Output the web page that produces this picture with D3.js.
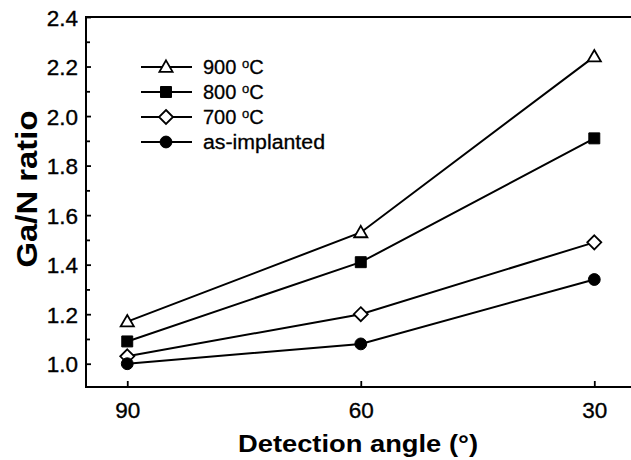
<!DOCTYPE html>
<html>
<head>
<meta charset="utf-8">
<script src="https://cdn.jsdelivr.net/npm/d3@7"></script>
<style>
  html, body { margin: 0; padding: 0; background: #fff; }
  svg { display: block; }
  text { font-family: "Liberation Sans", Arial, Helvetica, sans-serif; fill: #000; }
</style>
</head>
<body>
<svg id="chart" width="631" height="460"></svg>
<script>
// ---- data ----
const angles = [90, 60, 30];
const seriesNames = ["900", "800", "700", "as-implanted"];
const s900 = [1.17, 1.53, 2.24];
const s800 = [1.09, 1.41, 1.91];
const s700 = [1.03, 1.20, 1.49];
const sAsImplanted = [1.00, 1.08, 1.34];
const yMajorTicks = [1.0, 1.2, 1.4, 1.6, 1.8, 2.0, 2.2, 2.4];
const yMinorTicks = [1.1, 1.3, 1.5, 1.7, 1.9, 2.1, 2.3];
const xTicks = [90, 60, 30];

const series = [
  { name: seriesNames[0], values: s900, symbol: "triangle", fill: "#fff" },
  { name: seriesNames[1], values: s800, symbol: "square", fill: "#000" },
  { name: seriesNames[2], values: s700, symbol: "diamond", fill: "#fff" },
  { name: seriesNames[3], values: sAsImplanted, symbol: "circle", fill: "#000" }
];

const svg = d3.select("#chart");
const L = 86, T = 17, B = 387, R = 641;

const x = d3.scaleLinear().domain([95.3, 24]).range([L, R]);
const y = d3.scaleLinear().domain([0.906, 2.4]).range([B, T]);

// frame
svg.append("rect").attr("x", L).attr("y", T).attr("width", R - L).attr("height", B - T)
  .attr("fill", "none").attr("stroke", "#000").attr("stroke-width", 2);

// y axis
const yAxis = d3.axisLeft(y).tickValues(yMajorTicks).tickFormat(d3.format(".1f"))
  .tickSizeInner(-5).tickSizeOuter(0).tickPadding(8);
const gy = svg.append("g").attr("transform", `translate(${L},0)`).call(yAxis);
gy.select(".domain").remove();
gy.selectAll(".tick line").attr("stroke", "#000").attr("stroke-width", 1.8);
gy.selectAll(".tick text").attr("font-size", 22.5).attr("dy", "0.36em")
  .attr("stroke", "#000").attr("stroke-width", 0.35);

const yMinor = d3.axisLeft(y).tickValues(yMinorTicks).tickFormat("")
  .tickSizeInner(-4).tickSizeOuter(0);
const gym = svg.append("g").attr("transform", `translate(${L},0)`).call(yMinor);
gym.select(".domain").remove();
gym.selectAll(".tick line").attr("stroke", "#000").attr("stroke-width", 1.8);

// x axis
const xAxis = d3.axisBottom(x).tickValues(xTicks).tickFormat(d3.format("d"))
  .tickSizeInner(-6).tickSizeOuter(0).tickPadding(15);
const gx = svg.append("g").attr("transform", `translate(0,${B})`).call(xAxis);
gx.select(".domain").remove();
gx.selectAll(".tick line").attr("stroke", "#000").attr("stroke-width", 1.8);
gx.selectAll(".tick text").attr("font-size", 22.5)
  .attr("stroke", "#000").attr("stroke-width", 0.35);

// axis titles
svg.append("text").attr("x", 358).attr("y", 452).attr("text-anchor", "middle")
  .attr("font-size", 24).attr("font-weight", "bold")
  .attr("textLength", 240).attr("lengthAdjust", "spacingAndGlyphs")
  .text("Detection angle (°)");

svg.append("text").attr("transform", "translate(37,189) rotate(-90)")
  .attr("text-anchor", "middle").attr("font-size", 29).attr("font-weight", "bold")
  .attr("textLength", 157).attr("lengthAdjust", "spacingAndGlyphs")
  .text("Ga/N ratio");

// symbols
const symbolMap = {
  triangle: d3.symbolTriangle,
  square: d3.symbolSquare,
  diamond: d3.symbolDiamond,
  circle: d3.symbolCircle
};
const symbolSize = { triangle: 75, square: 120, diamond: 80, circle: 110 };

function drawSymbol(g, s, cx, cy) {
  if (s.symbol === "diamond") {
    const h = 7;
    g.append("path")
      .attr("d", `M${cx},${cy - h}L${cx + h},${cy}L${cx},${cy + h}L${cx - h},${cy}Z`)
      .attr("fill", s.fill).attr("stroke", "#000").attr("stroke-width", 1.8);
  } else if (s.symbol === "triangle") {
    const sym = d3.symbol().type(symbolMap.triangle).size(symbolSize.triangle);
    g.append("path").attr("d", sym()).attr("transform", `translate(${cx},${cy + 1})`)
      .attr("fill", s.fill).attr("stroke", "#000").attr("stroke-width", 1.8);
  } else {
    const sym = d3.symbol().type(symbolMap[s.symbol]).size(symbolSize[s.symbol]);
    g.append("path").attr("d", sym()).attr("transform", `translate(${cx},${cy})`)
      .attr("fill", s.fill).attr("stroke", "#000").attr("stroke-width", 1);
  }
}

const line = d3.line().x((d, i) => x(angles[i])).y(d => y(d));
const plot = svg.append("g");
series.forEach(s => {
  plot.append("path").datum(s.values).attr("d", line)
    .attr("fill", "none").attr("stroke", "#000").attr("stroke-width", 2);
});
series.forEach(s => {
  s.values.forEach((v, i) => drawSymbol(plot, s, x(angles[i]), y(v)));
});

// legend
const legendY = [67, 92, 117, 142];
const legend = svg.append("g");
series.forEach((s, i) => {
  const ly = legendY[i];
  legend.append("line").attr("x1", 141).attr("x2", 192).attr("y1", ly).attr("y2", ly)
    .attr("stroke", "#000").attr("stroke-width", 2);
  drawSymbol(legend, s, 166, ly);
  const t = legend.append("text").attr("x", 203).attr("y", ly + 7).attr("font-size", 20)
    .attr("stroke", "#000").attr("stroke-width", 0.3);
  if (s.name === "as-implanted") {
    t.attr("textLength", 122).attr("lengthAdjust", "spacingAndGlyphs").text("as-implanted");
  } else {
    t.append("tspan").text(s.name + " ");
    t.append("tspan").attr("font-size", 13).attr("dy", -6).text("o");
    t.append("tspan").attr("dy", 6).text("C");
  }
});
</script>
</body>
</html>
